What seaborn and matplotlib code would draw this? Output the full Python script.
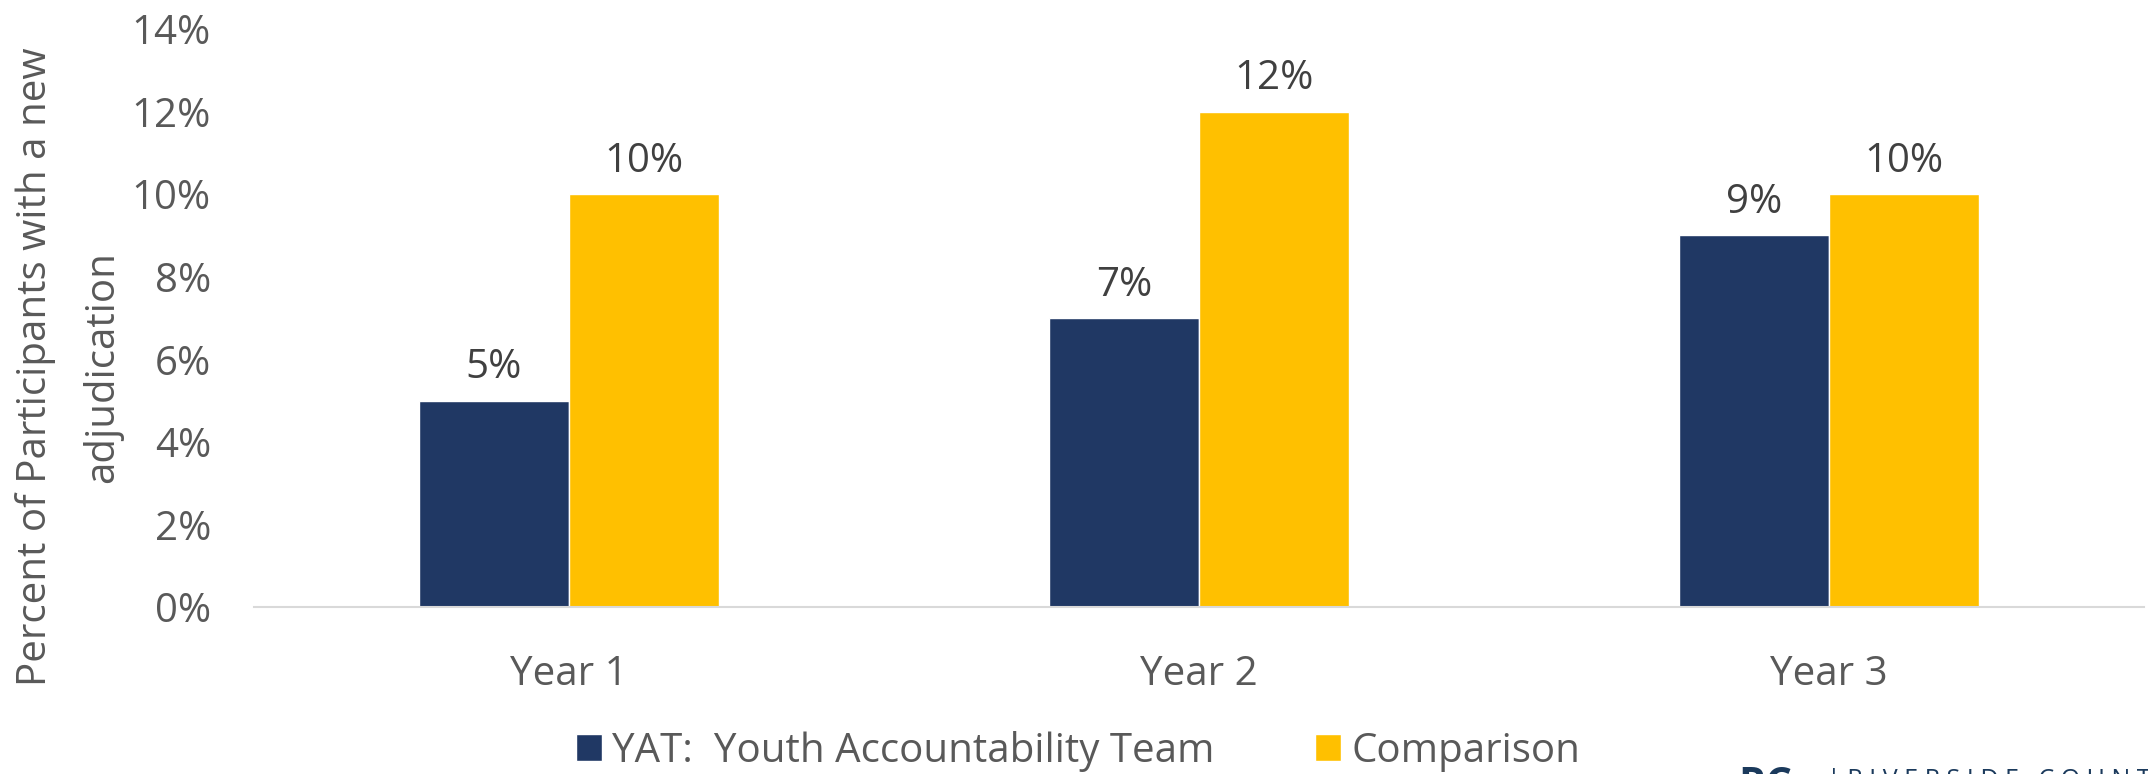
import matplotlib
matplotlib.use("Agg")
import matplotlib.pyplot as plt
import seaborn as sns
import pandas as pd
from matplotlib.ticker import FuncFormatter

years = ["Year 1", "Year 2", "Year 3"]
yat_values = [5, 7, 9]
comparison_values = [10, 12, 10]
series_names = ["YAT:  Youth Accountability Team", "Comparison"]
y_ticks = [0, 2, 4, 6, 8, 10, 12, 14]

df = pd.DataFrame({
    "Year": years * 2,
    "Value": yat_values + comparison_values,
    "Series": [series_names[0]] * 3 + [series_names[1]] * 3,
})

sns.set_theme(style="white")
plt.rcParams["font.family"] = ["Open Sans", "DejaVu Sans"]
TXT = "#595959"
NAVY = "#203864"
GOLD = "#FFC000"
FS = 29

fig = plt.figure(figsize=(21.48, 7.74), dpi=100)
ax = fig.add_axes([254 / 2148, 1 - 607 / 774, (2144 - 254) / 2148, (607 - 29) / 774])

sns.barplot(data=df, x="Year", y="Value", hue="Series", order=years,
            hue_order=series_names, palette=[NAVY, GOLD], width=0.476,
            gap=0, saturation=1, ax=ax, legend=True)

ax.set_ylim(0, 14)
ax.set_xlim(-0.5, 2.5)
ax.set_yticks(y_ticks)
ax.yaxis.set_major_formatter(FuncFormatter(lambda v, p: f"{int(v)}%"))
ax.tick_params(axis="y", length=0, pad=31, labelsize=FS, labelcolor=TXT)
ax.tick_params(axis="x", length=0, pad=34, labelsize=FS, labelcolor=TXT)
for s in ["top", "right", "left"]:
    ax.spines[s].set_visible(False)
ax.spines["bottom"].set_color("#D9D9D9")
ax.spines["bottom"].set_linewidth(1.5)
ax.set_xlabel("")
ax.set_ylabel("")

for cont in ax.containers:
    ax.bar_label(cont, labels=[f"{int(v)}%" for v in cont.datavalues],
                 padding=9, fontsize=FS, color="#404040")

fig.text(36 / 2148, 1 - 367 / 774, "Percent of Participants with a new",
         rotation=90, ha="center", va="center", fontsize=FS, color=TXT)
fig.text(103 / 2148, 1 - 367 / 774, "adjudication",
         rotation=90, ha="center", va="center", fontsize=FS, color=TXT)

handles, labels = ax.get_legend_handles_labels()
ax.legend_.remove()
fig.legend(handles, labels, loc="center", bbox_to_anchor=(1078 / 2148, 1 - 751 / 774),
           ncol=2, frameon=False, fontsize=FS, labelcolor=TXT,
           handlelength=0.65, handleheight=0.65, handletextpad=0.25, columnspacing=2.5)

fig.text(1738 / 2148, 1 - 766 / 774, "RC", ha="left", va="top", fontsize=30,
         fontweight="bold", color="#1B3A5C")
fig.text(1827 / 2148, 1 - 768 / 774, "| R I V E R S I D E   C O U N T Y",
         ha="left", va="top", fontsize=18, color="#1B3A5C")

fig.savefig("out.png", dpi=100)
